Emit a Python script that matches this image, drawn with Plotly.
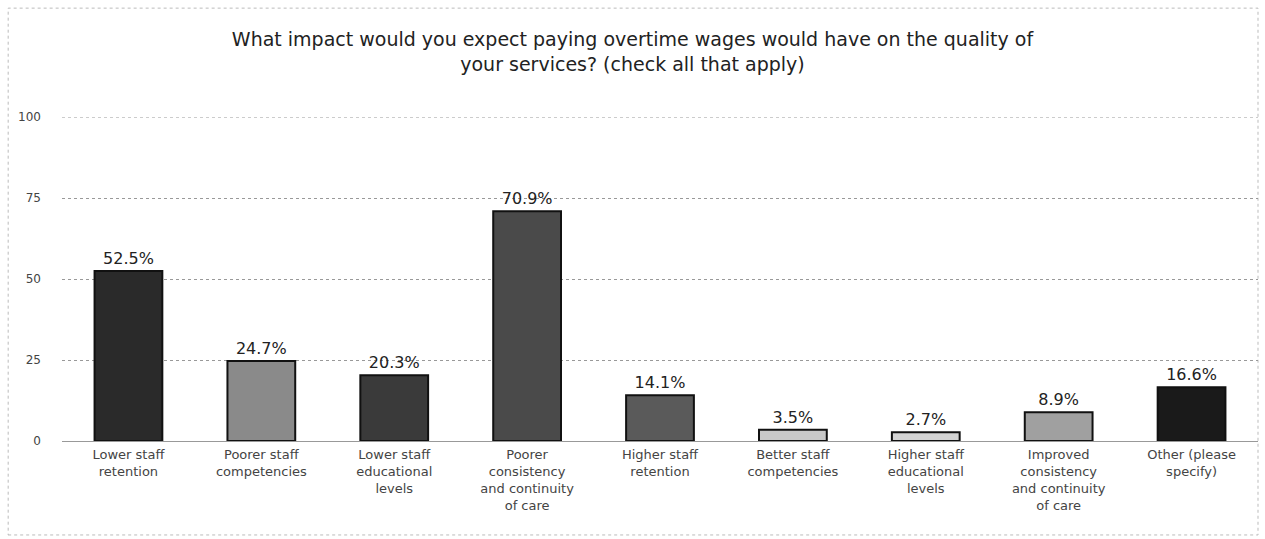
import plotly.graph_objects as go

categories = [
    "Lower staff<br>retention",
    "Poorer staff<br>competencies",
    "Lower staff<br>educational<br>levels",
    "Poorer<br>consistency<br>and continuity<br>of care",
    "Higher staff<br>retention",
    "Better staff<br>competencies",
    "Higher staff<br>educational<br>levels",
    "Improved<br>consistency<br>and continuity<br>of care",
    "Other (please<br>specify)",
]
percent = [52.5, 24.7, 20.3, 70.9, 14.1, 3.5, 2.7, 8.9, 16.6]
bar_colors = ["#2a2a2a", "#8a8a8a", "#3a3a3a", "#4a4a4a", "#5a5a5a",
              "#c8c8c8", "#d4d4d4", "#a0a0a0", "#1a1a1a"]
y_ticks = [0, 25, 50, 75, 100]

FONT = "DejaVu Sans, Liberation Sans, Arial"

fig = go.Figure(
    go.Bar(
        x=categories,
        y=percent,
        marker=dict(color=bar_colors, line=dict(color="#111111", width=2)),
        text=[f"{v:.1f}%" for v in percent],
        textposition="outside",
        textfont=dict(size=16, color="#222222", family=FONT),
        cliponaxis=False,
        width=0.51,
    )
)

fig.update_layout(
    width=1265,
    height=539,
    paper_bgcolor="white",
    plot_bgcolor="white",
    margin=dict(l=62, r=7, t=117, b=98),
    showlegend=False,
    title=dict(
        text="What impact would you expect paying overtime wages would have on the quality of<br>your services? (check all that apply)",
        x=0.5,
        xanchor="center",
        y=0.915,
        yanchor="middle",
        font=dict(size=19, color="#222222", family=FONT),
    ),
    font=dict(family=FONT, color="#444444"),
    shapes=[
        # light dotted frame around the chart
        dict(type="rect", xref="paper", yref="paper", x0=-0.045, x1=1.0, y0=-0.29, y1=1.336,
             line=dict(color="#bbbbbb", width=1, dash="dot"), layer="below"),
        dict(type="line", xref="paper", yref="y", x0=0, x1=1, y0=100, y1=100,
             line=dict(color="#999999", width=1, dash="dot")),
    ],
)

fig.update_xaxes(
    showgrid=False,
    showline=False,
    tickfont=dict(size=13, color="#444444", family=FONT),
    ticks="",
    ticklabelstandoff=4,
)
fig.update_yaxes(
    range=[0, 100],
    tickvals=y_ticks,
    showgrid=True,
    gridcolor="#999999",
    griddash="dot",
    gridwidth=1,
    zeroline=True,
    zerolinecolor="#999999",
    zerolinewidth=1,
    tickfont=dict(size=12, color="#444444", family=FONT),
    ticklabelstandoff=20,
)

fig.write_html("out.html")
